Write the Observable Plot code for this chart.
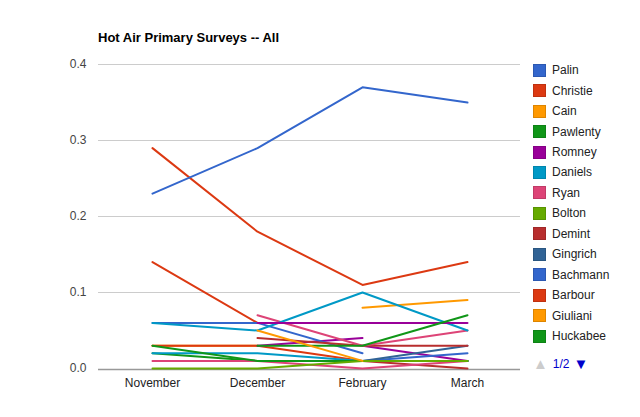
<!DOCTYPE html>
<html>
<head>
<meta charset="utf-8">
<script src="https://cdn.jsdelivr.net/npm/d3@7"></script>
<script src="https://cdn.jsdelivr.net/npm/@observablehq/plot@0.6"></script>
<style>
  html, body { margin: 0; padding: 0; background: #fff; }
  #wrap { position: relative; width: 640px; height: 417px; font-family: Arial, "Liberation Sans", sans-serif; }
  #title { position: absolute; left: 98px; top: 30px; font-size: 13px; font-weight: bold; color: #000; }
  #legend { position: absolute; left: 533px; top: 60px; font-size: 12px; color: #222; }
  .row { height: 20.46px; display: flex; align-items: center; white-space: nowrap; }
  .sw { width: 11px; height: 11px; margin-right: 6px; box-sizing: content-box; }
  #pager { position: absolute; left: 533px; top: 355px; font-size: 12px; display: flex; align-items: center; }
</style>
</head>
<body>
<div id="wrap">
  <div id="chart"></div>
  <div id="title">Hot Air Primary Surveys -- All</div>
  <div id="legend"></div>
  <div id="pager"></div>
</div>
<script>
const months = ["November", "December", "February", "March"];
const palette = ["#3366cc", "#dc3912", "#ff9900", "#109618", "#990099", "#0099c6", "#dd4477", "#66aa00", "#b82e2e", "#316395"];
const names = ["Palin", "Christie", "Cain", "Pawlenty", "Romney", "Daniels", "Ryan", "Bolton", "Demint", "Gingrich",
               "Bachmann", "Barbour", "Giuliani", "Huckabee", "Thune", "Huntsman", "Pence", "Santorum", "Jindal", "Paul",
               "Johnson", "Trump", "Perry", "Barton", "Rubio"];
const legendPage = names.slice(0, 14);
const values = [
  [0.23, 0.29, 0.37, 0.35],
  [0.29, 0.18, 0.11, 0.14],
  [null, 0.05, 0.01, null],
  [null, 0.03, 0.03, 0.07],
  [null, 0.06, 0.06, 0.06],
  [0.06, 0.05, 0.10, 0.05],
  [null, 0.07, 0.03, 0.05],
  [0.00, 0.00, 0.01, 0.01],
  [null, 0.04, 0.03, 0.03],
  [null, null, 0.01, 0.03],
  [0.06, 0.06, 0.02, null],
  [0.14, 0.06, null, null],
  [null, null, 0.08, 0.09],
  [0.03, 0.01, 0.01, 0.01],
  [null, 0.03, 0.04, null],
  [0.02, 0.02, 0.01, 0.01],
  [0.01, 0.01, 0.00, 0.01],
  [null, null, null, null],
  [null, null, 0.01, 0.00],
  [null, null, null, null],
  [null, null, 0.01, 0.02],
  [0.03, 0.03, 0.01, null],
  [0.03, 0.03, null, null],
  [0.02, 0.01, 0.01, 0.01],
  [null, null, 0.03, 0.01]
];
const yTicks = [0, 0.1, 0.2, 0.3, 0.4];

const colors = names.map((_, i) => palette[i % palette.length]);
const rows = [];
// later series first, so the first series are drawn on top
for (let i = names.length - 1; i >= 0; i--) {
  months.forEach((m, j) => rows.push({name: names[i], month: m, value: values[i][j]}));
}

const chart = Plot.plot({
  width: 640,
  height: 417,
  marginLeft: 98,
  marginRight: 120,
  marginTop: 64,
  marginBottom: 49,
  style: {fontFamily: "Arial, 'Liberation Sans', sans-serif", fontSize: "12px", color: "#444", background: "#fff"},
  x: {type: "point", domain: months, padding: 0.5, label: null},
  y: {domain: [0, 0.4], label: null},
  color: {domain: names, range: colors},
  marks: [
    Plot.ruleY(yTicks.slice(1), {stroke: "#cccccc", strokeWidth: 1}),
    Plot.ruleY([0], {stroke: "#999999", strokeWidth: 1.5, dy: 1}),
    Plot.axisY({ticks: yTicks, tickFormat: d3.format(".1f"), tickSize: 0, tickPadding: 12, label: null, fill: "#444"}),
    Plot.axisX({tickSize: 0, tickPadding: 10, label: null, fill: "#222"}),
    Plot.line(rows, {x: "month", y: "value", z: "name", stroke: "name", strokeWidth: 2,
                     defined: d => d.value != null, curve: "linear"})
  ]
});
document.getElementById("chart").appendChild(chart);

const legend = document.getElementById("legend");
legendPage.forEach((n, i) => {
  const row = document.createElement("div");
  row.className = "row";
  const c = d3.color(colors[i]);
  row.innerHTML = `<div class="sw" style="background:${colors[i]};border:1px solid ${c.darker(0.4)}"></div><span>${n}</span>`;
  legend.appendChild(row);
});
document.getElementById("pager").innerHTML =
  `<span style="color:#cccccc;font-size:15px;margin-right:5px">&#9650;</span><span style="color:#0000cc;margin-right:4px">1/2</span><span style="color:#0000cc;font-size:15px">&#9660;</span>`;
</script>
</body>
</html>
